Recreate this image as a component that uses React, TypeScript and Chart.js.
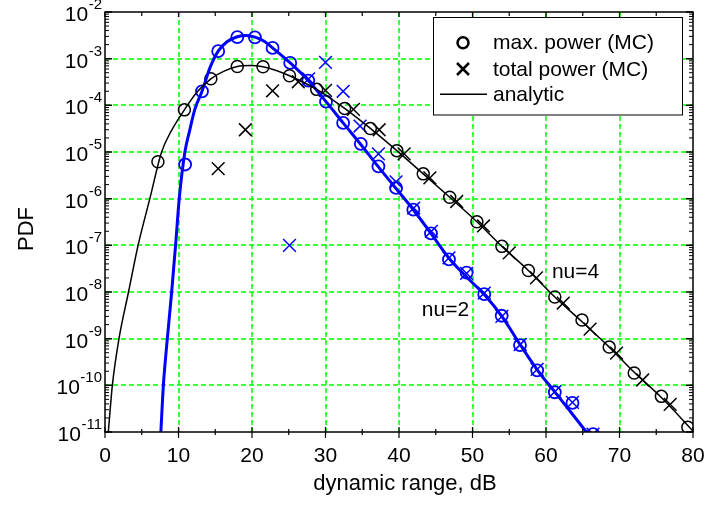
import React, { useEffect, useRef } from "react";
import { Chart, registerables } from "chart.js";

Chart.register(...registerables);

const FONT = '"Liberation Sans", Arial, Helvetica, sans-serif';

// ---- axes / tick labels ----
const xMin = 0;
const xMax = 80;
const yMin = 1e-11;
const yMax = 1e-2;
const xTickValues = [0, 10, 20, 30, 40, 50, 60, 70, 80];
const xTickLabels = ["0", "10", "20", "30", "40", "50", "60", "70", "80"];
const xMinorTickValues = [5, 15, 25, 35, 45, 55, 65, 75];
const xGridValues = [10, 20, 30, 40, 50, 60, 70];
const yTickExponents = [-2, -3, -4, -5, -6, -7, -8, -9, -10, -11];
const yGridExponents = [-3, -4, -5, -6, -7, -8, -9, -10];
const yMinorMultipliers = [2, 3, 4, 5, 6, 7, 8, 9];

const xTitle = "dynamic range, dB";
const yTitle = "PDF";
const legendLabels = ["max. power (MC)", "total power (MC)", "analytic"];

const annotationTexts = ["nu=4", "nu=2"];
const annotationX = [60.8, 43.1];
const annotationY = [2.0e-8, 3.0e-9];

// ---- nu = 4 (black) ----
const nu4AnalyticX = [0.45, 1.0, 1.9, 3.2, 4.5, 6.1, 7.7, 9.0, 10.8, 12.5, 14.4, 16.2, 18.0, 19.7, 21.5, 23.3, 25.1, 28.8, 32.6, 36.1, 39.7, 43.3, 46.9, 50.6, 54.0, 57.6, 61.2, 64.9, 68.6, 72.0, 75.7, 80.0];
const nu4AnalyticY = [1e-11, 1e-10, 1e-9, 1e-8, 1e-7, 1e-6, 1e-5, 2.8e-5, 8.0e-5, 1.9e-4, 3.7e-4, 5.4e-4, 6.8e-4, 7.1e-4, 6.7e-4, 5.6e-4, 4.3e-4, 2.2e-4, 8.6e-5, 3.2e-5, 1.07e-5, 3.4e-6, 1.07e-6, 3.2e-7, 9.5e-8, 2.9e-8, 7.8e-9, 2.3e-9, 6.6e-10, 1.9e-10, 5.5e-11, 1.05e-11];

const nu4MaxX = [7.2, 10.8, 14.4, 18.0, 21.5, 25.1, 28.8, 32.6, 36.1, 39.7, 43.3, 46.9, 50.6, 54.0, 57.6, 61.2, 64.9, 68.6, 72.0, 75.7, 79.3];
const nu4MaxY = [6.2e-6, 8.0e-5, 3.7e-4, 6.8e-4, 6.7e-4, 4.3e-4, 2.2e-4, 8.6e-5, 3.2e-5, 1.07e-5, 3.4e-6, 1.07e-6, 3.2e-7, 9.5e-8, 2.9e-8, 7.8e-9, 2.5e-9, 6.6e-10, 1.84e-10, 5.8e-11, 1.26e-11];

const nu4TotalX = [15.4, 19.1, 22.8, 26.3, 30.0, 33.8, 37.3, 40.7, 44.2, 47.85, 51.5, 55.0, 58.7, 62.35, 66.0, 69.6, 73.15, 76.9];
const nu4TotalY = [4.4e-6, 3.0e-5, 2.05e-4, 3.2e-4, 2.1e-4, 8.2e-5, 3.0e-5, 9.1e-6, 2.8e-6, 8.7e-7, 2.6e-7, 6.9e-8, 2.0e-8, 5.8e-9, 1.6e-9, 4.9e-10, 1.3e-10, 3.9e-11];

// ---- nu = 2 (blue) ----
const nu2AnalyticX = [7.6, 7.94, 8.48, 9.07, 9.6, 10.1, 10.87, 11.5, 12.2, 13.2, 14.3, 15.4, 16.6, 18.0, 19.2, 20.4, 21.6, 22.8, 25.2, 27.66, 30.07, 32.4, 34.8, 37.2, 39.6, 41.95, 44.35, 46.8, 49.2, 51.6, 54.0, 56.5, 58.85, 61.3, 63.6, 65.5, 66.0];
const nu2AnalyticY = [1e-11, 1e-10, 1e-9, 1e-8, 1e-7, 1e-6, 1e-5, 2.8e-5, 8.0e-5, 2.0e-4, 6.5e-4, 1.45e-3, 2.3e-3, 2.95e-3, 3.15e-3, 2.9e-3, 2.4e-3, 1.7e-3, 8.1e-4, 3.4e-4, 1.2e-4, 4.2e-5, 1.45e-5, 4.8e-6, 1.65e-6, 5.8e-7, 1.8e-7, 5.3e-8, 2.1e-8, 8.8e-9, 3.0e-9, 7.4e-10, 2.1e-10, 6.9e-11, 2.4e-11, 1e-11, 8e-12];

const nu2MaxX = [10.9, 13.2, 15.4, 18.0, 20.4, 22.8, 25.2, 27.66, 30.07, 32.4, 34.8, 37.2, 39.6, 41.95, 44.35, 46.8, 49.2, 51.6, 53.97, 56.46, 58.8, 61.2, 63.6, 66.4];
const nu2MaxY = [5.4e-6, 2.0e-4, 1.45e-3, 2.9e-3, 2.85e-3, 1.7e-3, 8.1e-4, 3.4e-4, 1.2e-4, 4.2e-5, 1.5e-5, 4.9e-6, 1.7e-6, 5.8e-7, 1.8e-7, 5.0e-8, 2.6e-8, 9.0e-9, 3.1e-9, 7.3e-10, 2.1e-10, 7.1e-11, 4.2e-11, 9e-12];

const nu2TotalX = [25.1, 27.7, 30.0, 32.4, 34.7, 37.2, 39.6, 42.0, 44.4, 46.8, 49.2, 51.6, 54.0, 56.5, 58.8, 61.2, 63.6, 66.4];
const nu2TotalY = [1.0e-7, 3.7e-4, 8.3e-4, 2.0e-4, 3.6e-5, 9.1e-6, 2.3e-6, 6.3e-7, 2.0e-7, 5.4e-8, 2.5e-8, 9.5e-9, 3.0e-9, 7.5e-10, 2.2e-10, 7.3e-11, 4.3e-11, 9e-12];

const BLACK = "#000000";
const BLUE = "#0000ff";
const GRID = "#00ff00";

function pts(xs: number[], ys: number[]) {
  return xs.map((x, i) => ({ x, y: ys[i] }));
}

const decorPlugin = {
  id: "decor",
  beforeDatasetsDraw(chart: any) {
    const { ctx, chartArea: a, scales } = chart;
    const xs = scales.x;
    const ys = scales.y;
    ctx.save();
    ctx.strokeStyle = GRID;
    ctx.lineWidth = 1.5;
    ctx.setLineDash([5, 3]);
    for (const v of xGridValues) {
      const px = Math.round(xs.getPixelForValue(v));
      ctx.beginPath();
      ctx.moveTo(px, a.top);
      ctx.lineTo(px, a.bottom);
      ctx.stroke();
    }
    for (const e of yGridExponents) {
      const py = Math.round(ys.getPixelForValue(Math.pow(10, e)));
      ctx.beginPath();
      ctx.moveTo(a.left, py);
      ctx.lineTo(a.right, py);
      ctx.stroke();
    }
    ctx.restore();
  },
  afterDatasetsDraw(chart: any) {
    const { ctx, chartArea: a, scales } = chart;
    const xs = scales.x;
    const ys = scales.y;
    ctx.save();
    ctx.setLineDash([]);
    ctx.strokeStyle = BLACK;
    ctx.fillStyle = BLACK;

    // annotations
    ctx.font = `21px ${FONT}`;
    ctx.textAlign = "left";
    ctx.textBaseline = "alphabetic";
    annotationTexts.forEach((t, i) => {
      ctx.fillText(t, xs.getPixelForValue(annotationX[i]), ys.getPixelForValue(annotationY[i]));
    });

    // frame
    ctx.lineWidth = 1.5;
    ctx.strokeRect(a.left, a.top, a.right - a.left, a.bottom - a.top);

    // x ticks
    ctx.lineWidth = 1.2;
    for (const v of xTickValues) {
      const px = xs.getPixelForValue(v);
      ctx.beginPath();
      ctx.moveTo(px, a.bottom - 5);
      ctx.lineTo(px, a.bottom + 6);
      ctx.moveTo(px, a.top);
      ctx.lineTo(px, a.top + 5);
      ctx.stroke();
    }
    for (const v of xMinorTickValues) {
      const px = xs.getPixelForValue(v);
      ctx.beginPath();
      ctx.moveTo(px, a.bottom - 3);
      ctx.lineTo(px, a.bottom + 3);
      ctx.moveTo(px, a.top);
      ctx.lineTo(px, a.top + 4);
      ctx.stroke();
    }
    // y ticks
    for (const e of yTickExponents) {
      const py = ys.getPixelForValue(Math.pow(10, e));
      ctx.lineWidth = 1.5;
      ctx.beginPath();
      ctx.moveTo(a.left, py);
      ctx.lineTo(a.left + 7, py);
      ctx.moveTo(a.right, py);
      ctx.lineTo(a.right - 7, py);
      ctx.stroke();
      if (e > -2) continue;
      ctx.lineWidth = 1;
      for (const m of yMinorMultipliers) {
        const v = m * Math.pow(10, e);
        if (v > yMax) continue;
        const q = ys.getPixelForValue(v);
        ctx.beginPath();
        ctx.moveTo(a.left, q);
        ctx.lineTo(a.left + 4, q);
        ctx.moveTo(a.right, q);
        ctx.lineTo(a.right - 4, q);
        ctx.stroke();
      }
    }

    // x tick labels
    ctx.font = `21px ${FONT}`;
    ctx.textAlign = "center";
    ctx.textBaseline = "alphabetic";
    xTickValues.forEach((v, i) => {
      ctx.fillText(xTickLabels[i], xs.getPixelForValue(v), a.bottom + 30);
    });

    // y tick labels 10^e
    ctx.textAlign = "right";
    for (const e of yTickExponents) {
      const py = ys.getPixelForValue(Math.pow(10, e));
      const expStr = String(e);
      ctx.font = `15px ${FONT}`;
      const ew = ctx.measureText(expStr).width;
      const right = a.left - 3;
      ctx.fillText(expStr, right, py - 3);
      ctx.font = `21px ${FONT}`;
      ctx.fillText("10", right - ew - 0.5, py + 9);
    }

    // axis titles
    ctx.font = `22px ${FONT}`;
    ctx.textAlign = "center";
    ctx.fillText(xTitle, (a.left + a.right) / 2 + 6, a.bottom + 58);
    ctx.save();
    ctx.translate(a.left - 72, (a.top + a.bottom) / 2 + 7);
    ctx.rotate(-Math.PI / 2);
    ctx.fillText(yTitle, 0, 0);
    ctx.restore();

    // legend
    const lx = 433.5, ly = 17.5, lw = 249, lh = 97.5;
    ctx.fillStyle = "#ffffff";
    ctx.fillRect(lx, ly, lw, lh);
    ctx.strokeStyle = BLACK;
    ctx.lineWidth = 1;
    ctx.strokeRect(lx, ly, lw, lh);
    ctx.fillStyle = BLACK;
    const rows = [42.7, 69, 94.3];
    const mx = 463;
    ctx.lineWidth = 2.5;
    ctx.beginPath();
    ctx.arc(mx, rows[0], 5.5, 0, Math.PI * 2);
    ctx.stroke();
    ctx.beginPath();
    ctx.moveTo(mx - 6, rows[1] - 6);
    ctx.lineTo(mx + 6, rows[1] + 6);
    ctx.moveTo(mx + 6, rows[1] - 6);
    ctx.lineTo(mx - 6, rows[1] + 6);
    ctx.stroke();
    ctx.lineWidth = 1.5;
    ctx.beginPath();
    ctx.moveTo(440, rows[2]);
    ctx.lineTo(487, rows[2]);
    ctx.stroke();
    ctx.font = `21px ${FONT}`;
    ctx.textAlign = "left";
    ctx.textBaseline = "middle";
    legendLabels.forEach((t, i) => ctx.fillText(t, 493, rows[i] + 1));

    ctx.restore();
  },
};

export default function App() {
  const ref = useRef<HTMLCanvasElement | null>(null);
  useEffect(() => {
    document.body.style.margin = "0";
    document.body.style.background = "#ffffff";
    const canvas = ref.current;
    if (!canvas) return;
    const markerCommon = { showLine: false, backgroundColor: "rgba(0,0,0,0)", clip: 0 };
    const chart = new Chart(canvas, {
      type: "scatter",
      data: {
        datasets: [
          {
            label: "nu=4 analytic",
            data: pts(nu4AnalyticX, nu4AnalyticY),
            showLine: true,
            borderColor: BLACK,
            borderWidth: 1.5,
            pointRadius: 0,
            cubicInterpolationMode: "monotone",
          },
          {
            label: "nu=2 analytic",
            data: pts(nu2AnalyticX, nu2AnalyticY),
            showLine: true,
            borderColor: BLUE,
            borderWidth: 3,
            pointRadius: 0,
            cubicInterpolationMode: "monotone",
          },
          {
            label: "nu=4 max power (MC)",
            data: pts(nu4MaxX, nu4MaxY),
            ...markerCommon,
            pointStyle: "circle",
            pointRadius: 6,
            borderColor: BLACK,
            borderWidth: 1.5,
          },
          {
            label: "nu=4 total power (MC)",
            data: pts(nu4TotalX, nu4TotalY),
            ...markerCommon,
            pointStyle: "crossRot",
            pointRadius: 9,
            borderColor: BLACK,
            borderWidth: 1.5,
          },
          {
            label: "nu=2 max power (MC)",
            data: pts(nu2MaxX, nu2MaxY),
            ...markerCommon,
            pointStyle: "circle",
            pointRadius: 6,
            borderColor: BLUE,
            borderWidth: 1.8,
          },
          {
            label: "nu=2 total power (MC)",
            data: pts(nu2TotalX, nu2TotalY),
            ...markerCommon,
            pointStyle: "crossRot",
            pointRadius: 9,
            borderColor: BLUE,
            borderWidth: 1.5,
          },
        ],
      },
      options: {
        animation: false,
        responsive: false,
        events: [],
        layout: { padding: { left: 105, top: 12, right: 12, bottom: 74 } },
        plugins: { legend: { display: false }, tooltip: { enabled: false } },
        scales: {
          x: { type: "linear", min: xMin, max: xMax, display: false },
          y: { type: "logarithmic", min: yMin, max: yMax, display: false },
        },
      },
      plugins: [decorPlugin],
    } as any);
    return () => chart.destroy();
  }, []);
  return (
    <div style={{ width: 705, height: 506 }}>
      <canvas ref={ref} width={705} height={506} style={{ display: "block" }} />
    </div>
  );
}
